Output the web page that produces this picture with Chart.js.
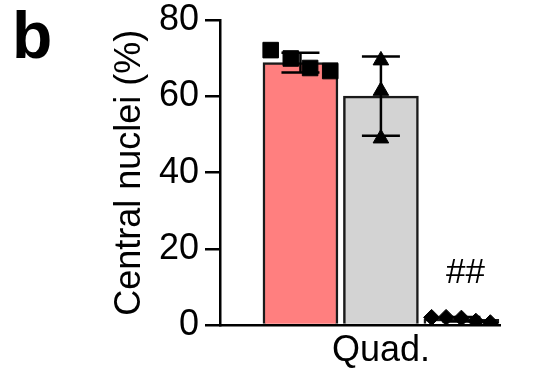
<!DOCTYPE html>
<html>
<head>
<meta charset="utf-8">
<script src="https://cdn.jsdelivr.net/npm/chart.js@4/dist/chart.umd.min.js"></script>
<style>
  html, body { margin: 0; padding: 0; background: #fff; }
  #wrap { width: 537px; height: 368px; }
</style>
</head>
<body>
<div id="wrap"><canvas id="chart"></canvas></div>
<script>
const categories = ['Quad.'];
const groupPositions = [0, 1, 2];
const barMeans = [68.9, 60.1, 1.5];
const barSd = [2.6, 10.4, 0.6];
const barColors = ['#ff7f7f', '#d3d3d3', '#ffffff'];

const squareValues = [72.2, 70.0, 67.5, 66.7];
const squareOffsets = [-0.37, -0.12, 0.12, 0.37];
const triangleValues = [69.5, 61.5, 49.0];
const triangleOffsets = [0, 0, 0];
const diamondValues = [2.0, 2.0, 1.8, 1.0, 0.6];
const diamondOffsets = [-0.37, -0.19, 0, 0.18, 0.36];

const yTicks = [0, 20, 40, 60, 80];
const yTitle = 'Central nuclei (%)';
const panelLabel = 'b';
const sigLabel = '##';

const FONT = "'Liberation Sans', Arial, sans-serif";

function points(values, offsets, pos) {
  return values.map((v, i) => ({ x: pos + offsets[i], y: v }));
}

// error bars + text drawn from the scales
const extras = {
  id: 'extras',
  afterDatasetsDraw(chart) {
    const ctx = chart.ctx;
    const xs = chart.scales.x, ys = chart.scales.y;
    ctx.save();
    ctx.strokeStyle = '#000';
    ctx.lineWidth = 2.5;
    barMeans.forEach((m, i) => {
      const x = xs.getPixelForValue(groupPositions[i]);
      const top = ys.getPixelForValue(m + barSd[i]);
      const bot = ys.getPixelForValue(m - barSd[i]);
      const half = 19;
      ctx.beginPath();
      ctx.moveTo(x, top); ctx.lineTo(x, bot);
      ctx.moveTo(x - half, top); ctx.lineTo(x + half, top);
      ctx.moveTo(x - half, bot); ctx.lineTo(x + half, bot);
      ctx.stroke();
    });
    ctx.fillStyle = '#000';
    ctx.font = '35px ' + FONT;
    ctx.textAlign = 'center';
    ctx.textBaseline = 'alphabetic';
    ctx.fillText(sigLabel, xs.getPixelForValue(2.05), ys.getPixelForValue(11));
    ctx.font = 'bold 66px ' + FONT;
    ctx.textAlign = 'left';
    ctx.fillText(panelLabel, 12, 58);
    ctx.restore();
  }
};

const ctx = document.getElementById('chart').getContext('2d');
new Chart(ctx, {
  data: {
    datasets: [
      {
        type: 'bar',
        data: barMeans.map((m, i) => ({ x: groupPositions[i], y: m })),
        backgroundColor: barColors,
        borderColor: '#1a1a1a',
        borderWidth: 2.5,
        barThickness: 75,
        order: 2
      },
      {
        type: 'scatter',
        data: points(squareValues, squareOffsets, groupPositions[0]),
        pointStyle: 'rect', pointRadius: 11,
        backgroundColor: '#000', borderColor: '#000', order: 1
      },
      {
        type: 'scatter',
        data: points(triangleValues, triangleOffsets, groupPositions[1]),
        pointStyle: 'triangle', pointRadius: 9,
        backgroundColor: '#000', borderColor: '#000', order: 1
      },
      {
        type: 'scatter',
        data: points(diamondValues, diamondOffsets, groupPositions[2]),
        pointStyle: 'rectRot', pointRadius: 8,
        backgroundColor: '#000', borderColor: '#000', order: 1
      }
    ]
  },
  options: {
    responsive: true,
    maintainAspectRatio: false,
    animation: false,
    layout: { padding: { left: 112, right: 37, top: 20, bottom: 0 } },
    plugins: { legend: { display: false }, tooltip: { enabled: false } },
    scales: {
      x: {
        type: 'linear',
        offset: false,
        min: -1.0,
        max: 2.48,
        afterBuildTicks: (scale) => { scale.ticks = [{ value: groupPositions[1] }]; },
        afterFit: (scale) => { scale.height = 43; },
        grid: { display: false, drawTicks: false },
        border: { display: true, color: '#000', width: 2.5 },
        ticks: {
          color: '#000',
          padding: 8,
          font: { family: FONT, size: 36, lineHeight: 1.0 },
          callback: () => categories[0]
        }
      },
      y: {
        min: 0,
        max: 80,
        afterBuildTicks: (scale) => { scale.ticks = yTicks.map(v => ({ value: v })); },
        afterFit: (scale) => { scale.width = 108; },
        grid: { drawOnChartArea: false, color: '#000', lineWidth: 2.5, tickLength: 15 },
        border: { display: true, color: '#000', width: 2.5 },
        ticks: {
          color: '#000',
          padding: 6,
          font: { family: FONT, size: 36, lineHeight: 0.8 }
        },
        title: {
          display: true,
          text: yTitle,
          color: '#000',
          padding: { top: 0, bottom: 0 },
          font: { family: FONT, size: 36, lineHeight: 1.0 }
        }
      }
    }
  },
  plugins: [extras]
});
</script>
</body>
</html>
